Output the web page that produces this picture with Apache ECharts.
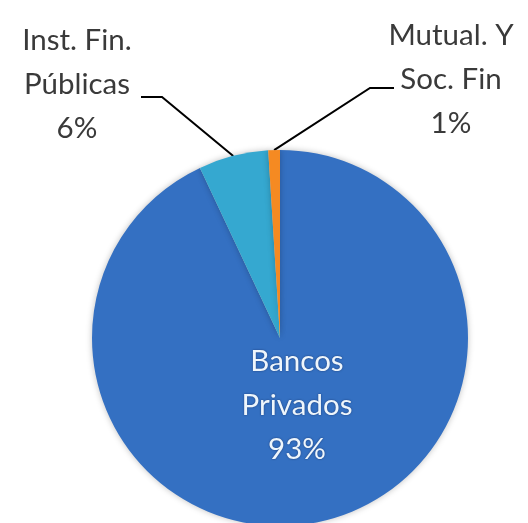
<!DOCTYPE html>
<html>
<head>
<meta charset="utf-8">
<script src="https://cdn.jsdelivr.net/npm/echarts@6/dist/echarts.min.js"></script>
<style>
  html, body { margin: 0; padding: 0; background: #fff; }
  #chart { width: 528px; height: 523px; }
</style>
</head>
<body>
<div id="chart"></div>
<script>
// data
const categories = ['Bancos\nPrivados', 'Inst. Fin.\nPúblicas', 'Mutual. Y\nSoc. Fin'];
const shares = [93, 6, 1];
const colors = ['#3470c2', '#35a8d0', '#f58a22'];

// where each label block sits (center) and the elbow of its leader line
const labelSpots = [
  { x: 297, y: 405 },
  { x: 77, y: 84, elbow: [162, 97], end: [141, 97] },
  { x: 451, y: 79, elbow: [370, 88], end: [394, 88] }
];

const chart = echarts.init(document.getElementById('chart'));

const option = {
  animation: false,
  series: [
    {
      type: 'pie',
      center: [280, 338],
      radius: [0, 188],
      startAngle: 90,
      clockwise: true,
      silent: true,
      itemStyle: {
        borderWidth: 0,
        shadowBlur: 6,
        shadowColor: 'rgba(0,0,0,0.25)'
      },
      label: {
        show: true,
        position: 'outside',
        overflow: 'none',
        fontFamily: 'Lato',
        fontSize: 29.5,
        lineHeight: 44,
        color: '#3a3a3a',
        align: 'center',
        formatter: p => p.name + '\n' + p.value + '%'
      },
      labelLine: {
        show: true,
        length: 10,
        length2: 10,
        lineStyle: { color: '#000', width: 2 }
      },
      labelLayout: params => {
        const s = labelSpots[params.dataIndex];
        const out = { x: s.x, y: s.y, align: 'center', verticalAlign: 'middle' };
        if (s.elbow && params.labelLinePoints) {
          const start = params.labelLinePoints[0];
          out.labelLinePoints = [start, s.elbow, s.end];
        }
        return out;
      },
      data: categories.map((name, i) => {
        const item = { name: name, value: shares[i], itemStyle: { color: colors[i] } };
        if (i === 0) {
          item.label = {
            position: 'inside',
            color: '#eef6fc',
            textShadowColor: 'rgba(0,0,40,0.5)',
            textShadowBlur: 2
          };
          item.labelLine = { show: false };
        }
        return item;
      })
    }
  ]
};

chart.setOption(option);
</script>
</body>
</html>
